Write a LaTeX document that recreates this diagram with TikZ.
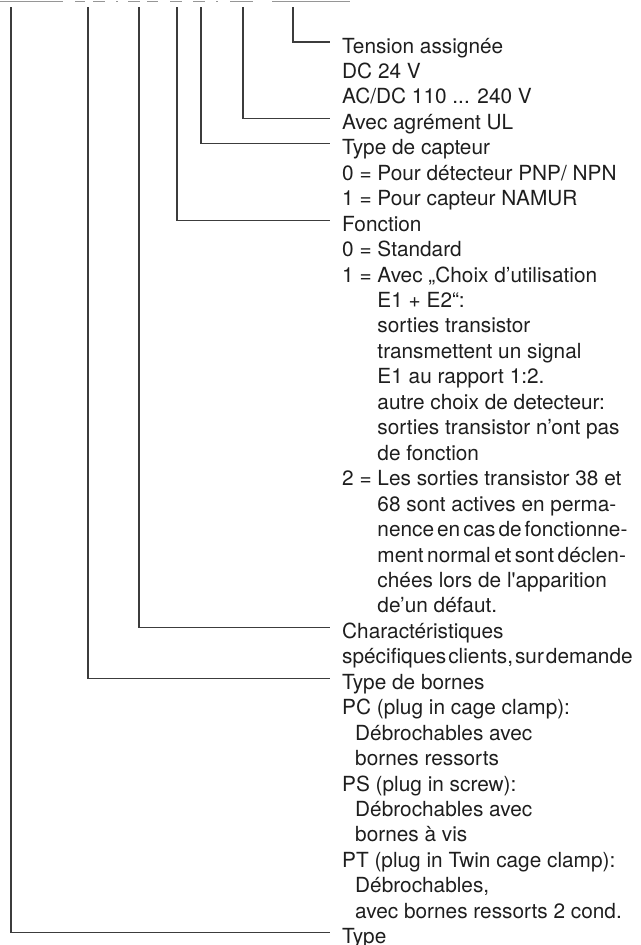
\documentclass[tikz,border=0pt]{standalone}
\usepackage{fontspec}
\setmainfont{TeX Gyre Heros}
\definecolor{ink}{RGB}{30, 30, 30}
\definecolor{wire}{RGB}{60, 60, 60}
\definecolor{codegray}{RGB}{150, 150, 150}
\newcommand{\ind}{\hphantom{1 = }}
\newcommand{\sub}{\hspace*{13pt}}
\newcommand{\tdots}{...}
\newcommand{\tight}[2]{{\spaceskip=#1\relax #2}}

\begin{document}
\begin{tikzpicture}[x=1pt, y=-1pt,
    lbl/.style={anchor=base west, inner xsep=12pt, inner ysep=0pt,
      text height=22pt, text depth=0pt, text=ink,
      font=\fontsize{20.8}{25.5}\selectfont},
    leader/.style={wire, line width=1.1pt}]
  \useasboundingbox (0, 0) rectangle (640, 945);

  % cut-off code line at the top edge
  \foreach \a/\b in {0/63, 75/85, 93/105, 116/118, 128/140, 147/158,
                     170/182, 193/205, 216/218, 230/253, 272/350} {
    \draw[codegray, line width=1.6] (\a, 1.5) -- (\b, 1.5);
  }

  % one label per printed line
  \foreach \t [count=\i from 0] in {
      {Tension assignée},
      {DC 24 V},
      {AC/DC 110 \tdots{} 240 V},
      {Avec agrément UL},
      {Type de capteur},
      {0 = Pour détecteur PNP/ NPN},
      {1 = Pour capteur NAMUR},
      {Fonction},
      {0 = Standard},
      {1 = Avec „Choix d’utilisation},
      {\ind E1 + E2“:},
      {\ind sorties transistor},
      {\ind transmettent un signal},
      {\ind E1 au rapport 1:2.},
      {\ind autre choix de detecteur:},
      {\ind sorties transistor n’ont pas},
      {\ind de fonction},
      {2 = Les sorties transistor 38 et},
      {\ind 68 sont actives en perma-},
      {\ind\tight{3pt}{nence en cas de fonctionne-}},
      {\ind\tight{3.5pt}{ment normal et sont déclen-}},
      {\ind chées lors de l\textquotesingle apparition},
      {\ind de’un défaut.},
      {Charactéristiques},
      {\tight{2pt}{spécifiques clients, sur demande}},
      {Type de bornes},
      {PC (plug in cage clamp):},
      {\sub Débrochables avec},
      {\sub bornes ressorts},
      {PS (plug in screw):},
      {\sub Débrochables avec},
      {\sub bornes à vis},
      {PT (plug in Twin cage clamp):},
      {\sub Débrochables,},
      {\sub avec bornes ressorts 2 cond.},
      {Type}} {
    \node[lbl] (l\i) at (330, {53 + 25.45*\i}) {\t};
  }

  % tops of the leaders
  \coordinate (kType)     at (11, 7);
  \coordinate (kBornes)   at (88, 7);
  \coordinate (kCharact)  at (139, 7);
  \coordinate (kFonction) at (177, 7);
  \coordinate (kCapteur)  at (201, 7);
  \coordinate (kUL)       at (243, 7);
  \coordinate (kTension)  at (293, 7);

  % leaders
  \draw[leader] (kTension) |- (l0.west);
  \draw[leader] (kUL) |- (l3.west);
  \draw[leader] (kCapteur) |- (l4.west);
  \draw[leader] (kFonction) |- (l7.west);
  \draw[leader] (kCharact) |- (l23.west);
  \draw[leader] (kBornes) |- (l25.west);
  \draw[leader] (kType) |- (l35.west);

\end{tikzpicture}
\end{document}
